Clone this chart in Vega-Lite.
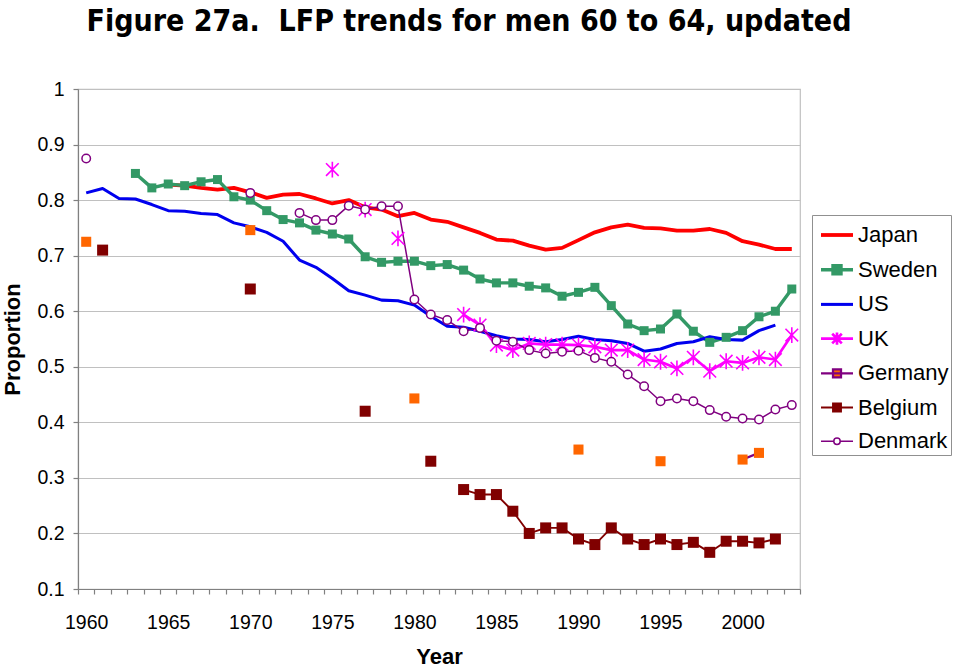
{
  "$schema": "https://vega.github.io/schema/vega-lite/v6.json",
  "autosize": {"type": "none"},
  "padding": {"left": 78, "top": 89, "right": 159, "bottom": 81},
  "width": 722,
  "height": 500,
  "background": "white",
  "title": {
    "text": "Figure 27a.\u00a0 LFP trends for men 60 to 64, updated",
    "font": "DejaVu Sans Condensed, Liberation Sans",
    "fontSize": 30,
    "fontWeight": "bold",
    "color": "black",
    "anchor": "middle",
    "frame": "group",
    "dx": 30,
    "baseline": "bottom",
    "offset": 12
  },
  "config": {
    "view": {"stroke": "#c0c0c0", "strokeWidth": 1.2},
    "axis": {
      "labelFont": "Liberation Sans",
      "labelFontSize": 19.5,
      "labelColor": "black",
      "titleFont": "Liberation Sans",
      "titleFontSize": 22,
      "titleFontWeight": "bold",
      "titleColor": "black",
      "domainColor": "#808080",
      "domainWidth": 1.2,
      "tickColor": "#808080",
      "tickWidth": 1.2,
      "tickSize": 5
    }
  },
  "datasets": {
    "lfp": [
      {"country":"Japan","year":1965,"value":0.828,"seg":1},{"country":"Japan","year":1966,"value":0.826,"seg":1},{"country":"Japan","year":1967,"value":0.822,"seg":1},{"country":"Japan","year":1968,"value":0.819,"seg":1},{"country":"Japan","year":1969,"value":0.822,"seg":1},{"country":"Japan","year":1970,"value":0.814,"seg":1},{"country":"Japan","year":1971,"value":0.804,"seg":1},{"country":"Japan","year":1972,"value":0.810,"seg":1},{"country":"Japan","year":1973,"value":0.811,"seg":1},{"country":"Japan","year":1974,"value":0.803,"seg":1},{"country":"Japan","year":1975,"value":0.794,"seg":1},{"country":"Japan","year":1976,"value":0.800,"seg":1},{"country":"Japan","year":1977,"value":0.787,"seg":1},{"country":"Japan","year":1978,"value":0.783,"seg":1},{"country":"Japan","year":1979,"value":0.771,"seg":1},{"country":"Japan","year":1980,"value":0.777,"seg":1},{"country":"Japan","year":1981,"value":0.765,"seg":1},{"country":"Japan","year":1982,"value":0.761,"seg":1},{"country":"Japan","year":1983,"value":0.751,"seg":1},{"country":"Japan","year":1984,"value":0.741,"seg":1},{"country":"Japan","year":1985,"value":0.729,"seg":1},{"country":"Japan","year":1986,"value":0.727,"seg":1},{"country":"Japan","year":1987,"value":0.718,"seg":1},{"country":"Japan","year":1988,"value":0.711,"seg":1},{"country":"Japan","year":1989,"value":0.714,"seg":1},{"country":"Japan","year":1990,"value":0.728,"seg":1},{"country":"Japan","year":1991,"value":0.742,"seg":1},{"country":"Japan","year":1992,"value":0.751,"seg":1},{"country":"Japan","year":1993,"value":0.756,"seg":1},{"country":"Japan","year":1994,"value":0.750,"seg":1},{"country":"Japan","year":1995,"value":0.749,"seg":1},{"country":"Japan","year":1996,"value":0.745,"seg":1},{"country":"Japan","year":1997,"value":0.745,"seg":1},{"country":"Japan","year":1998,"value":0.748,"seg":1},{"country":"Japan","year":1999,"value":0.741,"seg":1},{"country":"Japan","year":2000,"value":0.726,"seg":1},{"country":"Japan","year":2001,"value":0.720,"seg":1},{"country":"Japan","year":2002,"value":0.712,"seg":1},{"country":"Japan","year":2003,"value":0.712,"seg":1},
      {"country":"Sweden","year":1963,"value":0.848,"seg":3},{"country":"Sweden","year":1964,"value":0.822,"seg":3},{"country":"Sweden","year":1965,"value":0.829,"seg":3},{"country":"Sweden","year":1966,"value":0.826,"seg":3},{"country":"Sweden","year":1967,"value":0.833,"seg":3},{"country":"Sweden","year":1968,"value":0.837,"seg":3},{"country":"Sweden","year":1969,"value":0.806,"seg":3},{"country":"Sweden","year":1970,"value":0.800,"seg":3},{"country":"Sweden","year":1971,"value":0.781,"seg":3},{"country":"Sweden","year":1972,"value":0.765,"seg":3},{"country":"Sweden","year":1973,"value":0.759,"seg":3},{"country":"Sweden","year":1974,"value":0.746,"seg":3},{"country":"Sweden","year":1975,"value":0.739,"seg":3},{"country":"Sweden","year":1976,"value":0.730,"seg":3},{"country":"Sweden","year":1977,"value":0.698,"seg":3},{"country":"Sweden","year":1978,"value":0.688,"seg":3},{"country":"Sweden","year":1979,"value":0.690,"seg":3},{"country":"Sweden","year":1980,"value":0.690,"seg":3},{"country":"Sweden","year":1981,"value":0.682,"seg":3},{"country":"Sweden","year":1982,"value":0.684,"seg":3},{"country":"Sweden","year":1983,"value":0.674,"seg":3},{"country":"Sweden","year":1984,"value":0.658,"seg":3},{"country":"Sweden","year":1985,"value":0.651,"seg":3},{"country":"Sweden","year":1986,"value":0.651,"seg":3},{"country":"Sweden","year":1987,"value":0.645,"seg":3},{"country":"Sweden","year":1988,"value":0.642,"seg":3},{"country":"Sweden","year":1989,"value":0.627,"seg":3},{"country":"Sweden","year":1990,"value":0.634,"seg":3},{"country":"Sweden","year":1991,"value":0.643,"seg":3},{"country":"Sweden","year":1992,"value":0.610,"seg":3},{"country":"Sweden","year":1993,"value":0.577,"seg":3},{"country":"Sweden","year":1994,"value":0.565,"seg":3},{"country":"Sweden","year":1995,"value":0.568,"seg":3},{"country":"Sweden","year":1996,"value":0.595,"seg":3},{"country":"Sweden","year":1997,"value":0.564,"seg":3},{"country":"Sweden","year":1998,"value":0.544,"seg":3},{"country":"Sweden","year":1999,"value":0.553,"seg":3},{"country":"Sweden","year":2000,"value":0.565,"seg":3},{"country":"Sweden","year":2001,"value":0.590,"seg":3},{"country":"Sweden","year":2002,"value":0.600,"seg":3},{"country":"Sweden","year":2003,"value":0.640,"seg":3},
      {"country":"US","year":1960,"value":0.813,"seg":2},{"country":"US","year":1961,"value":0.821,"seg":2},{"country":"US","year":1962,"value":0.803,"seg":2},{"country":"US","year":1963,"value":0.802,"seg":2},{"country":"US","year":1964,"value":0.792,"seg":2},{"country":"US","year":1965,"value":0.781,"seg":2},{"country":"US","year":1966,"value":0.780,"seg":2},{"country":"US","year":1967,"value":0.776,"seg":2},{"country":"US","year":1968,"value":0.774,"seg":2},{"country":"US","year":1969,"value":0.759,"seg":2},{"country":"US","year":1970,"value":0.752,"seg":2},{"country":"US","year":1971,"value":0.742,"seg":2},{"country":"US","year":1972,"value":0.726,"seg":2},{"country":"US","year":1973,"value":0.692,"seg":2},{"country":"US","year":1974,"value":0.679,"seg":2},{"country":"US","year":1975,"value":0.659,"seg":2},{"country":"US","year":1976,"value":0.637,"seg":2},{"country":"US","year":1977,"value":0.629,"seg":2},{"country":"US","year":1978,"value":0.620,"seg":2},{"country":"US","year":1979,"value":0.619,"seg":2},{"country":"US","year":1980,"value":0.611,"seg":2},{"country":"US","year":1981,"value":0.591,"seg":2},{"country":"US","year":1982,"value":0.573,"seg":2},{"country":"US","year":1983,"value":0.571,"seg":2},{"country":"US","year":1984,"value":0.564,"seg":2},{"country":"US","year":1985,"value":0.556,"seg":2},{"country":"US","year":1986,"value":0.550,"seg":2},{"country":"US","year":1987,"value":0.549,"seg":2},{"country":"US","year":1988,"value":0.545,"seg":2},{"country":"US","year":1989,"value":0.549,"seg":2},{"country":"US","year":1990,"value":0.555,"seg":2},{"country":"US","year":1991,"value":0.549,"seg":2},{"country":"US","year":1992,"value":0.547,"seg":2},{"country":"US","year":1993,"value":0.542,"seg":2},{"country":"US","year":1994,"value":0.528,"seg":2},{"country":"US","year":1995,"value":0.532,"seg":2},{"country":"US","year":1996,"value":0.542,"seg":2},{"country":"US","year":1997,"value":0.545,"seg":2},{"country":"US","year":1998,"value":0.554,"seg":2},{"country":"US","year":1999,"value":0.549,"seg":2},{"country":"US","year":2000,"value":0.548,"seg":2},{"country":"US","year":2001,"value":0.565,"seg":2},{"country":"US","year":2002,"value":0.575,"seg":2},
      {"country":"UK","year":1975,"value":0.855,"seg":4},{"country":"UK","year":1977,"value":0.783,"seg":5},{"country":"UK","year":1979,"value":0.731,"seg":6},{"country":"UK","year":1983,"value":0.594,"seg":7},{"country":"UK","year":1984,"value":0.575,"seg":7},{"country":"UK","year":1985,"value":0.539,"seg":7},{"country":"UK","year":1986,"value":0.530,"seg":7},{"country":"UK","year":1987,"value":0.542,"seg":7},{"country":"UK","year":1988,"value":0.540,"seg":7},{"country":"UK","year":1989,"value":0.540,"seg":7},{"country":"UK","year":1990,"value":0.539,"seg":7},{"country":"UK","year":1991,"value":0.536,"seg":7},{"country":"UK","year":1992,"value":0.530,"seg":7},{"country":"UK","year":1993,"value":0.530,"seg":7},{"country":"UK","year":1994,"value":0.513,"seg":7},{"country":"UK","year":1995,"value":0.509,"seg":7},{"country":"UK","year":1996,"value":0.497,"seg":7},{"country":"UK","year":1997,"value":0.517,"seg":7},{"country":"UK","year":1998,"value":0.492,"seg":7},{"country":"UK","year":1999,"value":0.510,"seg":7},{"country":"UK","year":2000,"value":0.507,"seg":7},{"country":"UK","year":2001,"value":0.517,"seg":7},{"country":"UK","year":2002,"value":0.513,"seg":7},{"country":"UK","year":2003,"value":0.557,"seg":7},
      {"country":"Germany","year":1960,"value":0.725,"seg":8},{"country":"Germany","year":1970,"value":0.746,"seg":9},{"country":"Germany","year":1980,"value":0.443,"seg":10},{"country":"Germany","year":1990,"value":0.351,"seg":11},{"country":"Germany","year":1995,"value":0.330,"seg":12},{"country":"Germany","year":2000,"value":0.333,"seg":13},{"country":"Germany","year":2001,"value":0.345,"seg":13},
      {"country":"Belgium","year":1961,"value":0.710,"seg":14},{"country":"Belgium","year":1970,"value":0.640,"seg":15},{"country":"Belgium","year":1977,"value":0.420,"seg":16},{"country":"Belgium","year":1981,"value":0.330,"seg":17},{"country":"Belgium","year":1983,"value":0.279,"seg":18},{"country":"Belgium","year":1984,"value":0.270,"seg":18},{"country":"Belgium","year":1985,"value":0.270,"seg":18},{"country":"Belgium","year":1986,"value":0.240,"seg":18},{"country":"Belgium","year":1987,"value":0.200,"seg":18},{"country":"Belgium","year":1988,"value":0.210,"seg":18},{"country":"Belgium","year":1989,"value":0.210,"seg":18},{"country":"Belgium","year":1990,"value":0.190,"seg":18},{"country":"Belgium","year":1991,"value":0.180,"seg":18},{"country":"Belgium","year":1992,"value":0.210,"seg":18},{"country":"Belgium","year":1993,"value":0.190,"seg":18},{"country":"Belgium","year":1994,"value":0.180,"seg":18},{"country":"Belgium","year":1995,"value":0.190,"seg":18},{"country":"Belgium","year":1996,"value":0.180,"seg":18},{"country":"Belgium","year":1997,"value":0.184,"seg":18},{"country":"Belgium","year":1998,"value":0.166,"seg":18},{"country":"Belgium","year":1999,"value":0.186,"seg":18},{"country":"Belgium","year":2000,"value":0.186,"seg":18},{"country":"Belgium","year":2001,"value":0.183,"seg":18},{"country":"Belgium","year":2002,"value":0.190,"seg":18},
      {"country":"Denmark","year":1960,"value":0.875,"seg":19},{"country":"Denmark","year":1970,"value":0.813,"seg":20},{"country":"Denmark","year":1973,"value":0.777,"seg":21},{"country":"Denmark","year":1974,"value":0.764,"seg":21},{"country":"Denmark","year":1975,"value":0.764,"seg":21},{"country":"Denmark","year":1976,"value":0.790,"seg":21},{"country":"Denmark","year":1977,"value":0.783,"seg":21},{"country":"Denmark","year":1978,"value":0.789,"seg":21},{"country":"Denmark","year":1979,"value":0.789,"seg":21},{"country":"Denmark","year":1980,"value":0.621,"seg":21},{"country":"Denmark","year":1981,"value":0.594,"seg":21},{"country":"Denmark","year":1982,"value":0.584,"seg":21},{"country":"Denmark","year":1983,"value":0.564,"seg":21},{"country":"Denmark","year":1984,"value":0.570,"seg":21},{"country":"Denmark","year":1985,"value":0.547,"seg":21},{"country":"Denmark","year":1986,"value":0.545,"seg":21},{"country":"Denmark","year":1987,"value":0.530,"seg":21},{"country":"Denmark","year":1988,"value":0.524,"seg":21},{"country":"Denmark","year":1989,"value":0.527,"seg":21},{"country":"Denmark","year":1990,"value":0.529,"seg":21},{"country":"Denmark","year":1991,"value":0.516,"seg":21},{"country":"Denmark","year":1992,"value":0.509,"seg":21},{"country":"Denmark","year":1993,"value":0.486,"seg":21},{"country":"Denmark","year":1994,"value":0.465,"seg":21},{"country":"Denmark","year":1995,"value":0.438,"seg":21},{"country":"Denmark","year":1996,"value":0.443,"seg":21},{"country":"Denmark","year":1997,"value":0.438,"seg":21},{"country":"Denmark","year":1998,"value":0.422,"seg":21},{"country":"Denmark","year":1999,"value":0.410,"seg":21},{"country":"Denmark","year":2000,"value":0.407,"seg":21},{"country":"Denmark","year":2001,"value":0.405,"seg":21},{"country":"Denmark","year":2002,"value":0.423,"seg":21},{"country":"Denmark","year":2003,"value":0.431,"seg":21}
    ]
  },
  "data": {"name": "lfp"},
  "encoding": {
    "x": {
      "field": "year", "type": "quantitative",
      "scale": {"domain": [1959.5, 2003.5], "nice": false, "zero": false},
      "axis": {
        "title": "Year",
        "values": [1959.5,1960.5,1961.5,1962.5,1963.5,1964.5,1965.5,1966.5,1967.5,1968.5,1969.5,1970.5,1971.5,1972.5,1973.5,1974.5,1975.5,1976.5,1977.5,1978.5,1979.5,1980.5,1981.5,1982.5,1983.5,1984.5,1985.5,1986.5,1987.5,1988.5,1989.5,1990.5,1991.5,1992.5,1993.5,1994.5,1995.5,1996.5,1997.5,1998.5,1999.5,2000.5,2001.5,2002.5,2003.5],
        "labelExpr": "(datum.value + 0.5) % 5 === 0 ? '' + (datum.value + 0.5) : ''",
        "labelOffset": 8.2,
        "labelOverlap": false,
        "labelBound": false,
        "labelFlush": false,
        "labelPadding": 19,
        "grid": false,
        "titlePadding": 15
      }
    },
    "y": {
      "field": "value", "type": "quantitative",
      "scale": {"domain": [0.1, 1], "nice": false, "zero": false},
      "axis": {
        "title": "Proportion",
        "values": [0.1,0.2,0.3,0.4,0.5,0.6,0.7,0.8,0.9,1],
        "format": ".1~f",
        "grid": true,
        "gridColor": "#c0c0c0",
        "gridWidth": 1.2,
        "labelPadding": 9,
        "titlePadding": 12
      }
    }
  },
  "layer": [
    {
      "mark": {"type": "line", "strokeJoin": "round"},
      "encoding": {
        "detail": {"field": "seg", "type": "nominal"},
        "color": {
          "field": "country", "type": "nominal",
          "scale": {
            "domain": ["Japan","Sweden","US","UK","Germany","Belgium","Denmark"],
            "range": ["#ff0000","#339966","#0000ee","#ff00ff","#800080","#800000","#800080"]
          },
          "legend": {
            "title": null,
            "orient": "none",
            "legendX": 734,
            "legendY": 126,
            "fillColor": "white",
            "strokeColor": "#909090",
            "padding": 2,
            "symbolOffset": 5,
            "symbolSize": 1024,
            "rowPadding": 5.7,
            "labelOffset": 3,
            "labelFont": "Liberation Sans",
            "labelFontSize": 22,
            "labelColor": "black",
            "encode": {
              "symbols": {
                "update": {
                  "shape": {"signal": "(datum.value === 'Japan' || datum.value === 'US') ? 'M-1,0H1' : datum.value === 'UK' ? 'M-1,0H1M-0.3,-0.3L0.3,0.3M-0.3,0.3L0.3,-0.3M0,-0.38V0.38' : datum.value === 'Denmark' ? 'M-1,0H-0.2M0.2,0H1M-0.2,0A0.2,0.2 0 1,0 0.2,0A0.2,0.2 0 1,0 -0.2,0Z' : 'M-1,0H1M-0.25,-0.25H0.25V0.25H-0.25Z'"},
                  "stroke": {"signal": "datum.value === 'Germany' ? '#800080' : scale('color', datum.value)"},
                  "fill": {"signal": "datum.value === 'Denmark' ? '#ffffff' : datum.value === 'Germany' ? '#ff6600' : scale('color', datum.value)"},
                  "strokeWidth": {"signal": "(datum.value === 'Japan' || datum.value === 'US' || datum.value === 'UK') ? 3.5 : 1.5"},
                  "opacity": {"value": 1}
                }
              }
            }
          }
        },
        "strokeWidth": {
          "field": "country", "type": "nominal",
          "scale": {
            "domain": ["Japan","Sweden","US","UK","Germany","Belgium","Denmark"],
            "range": [3.8, 1.5, 3.8, 3.8, 1.5, 1.5, 1.3]
          },
          "legend": null
        }
      }
    },
    {
      "transform": [{"filter": "indexof(['Sweden','Germany','Belgium'], datum.country) >= 0"}],
      "mark": {"type": "point", "shape": "square", "filled": true, "opacity": 1},
      "encoding": {
        "fill": {
          "field": "country", "type": "nominal",
          "scale": {"domain": ["Sweden","Germany","Belgium"], "range": ["#339966","#ff6600","#800000"]},
          "legend": null
        },
        "size": {
          "field": "country", "type": "nominal",
          "scale": {"domain": ["Sweden","Germany","Belgium"], "range": [81, 121, 100]},
          "legend": null
        }
      }
    },
    {
      "transform": [{"filter": "datum.country === 'UK'"}],
      "mark": {"type": "point", "shape": "M-1,-1L1,1M-1,1L1,-1M0,-1.25V1.25", "filled": false, "stroke": "#ff00ff", "strokeWidth": 1.6, "size": 160, "opacity": 1}
    },
    {
      "transform": [{"filter": "datum.country === 'Denmark'"}],
      "mark": {"type": "point", "shape": "circle", "filled": false, "fill": "white", "fillOpacity": 1, "stroke": "#800080", "strokeWidth": 1.5, "size": 72, "opacity": 1}
    }
  ],
  "resolve": {"scale": {"fill": "independent", "size": "independent"}}
}
